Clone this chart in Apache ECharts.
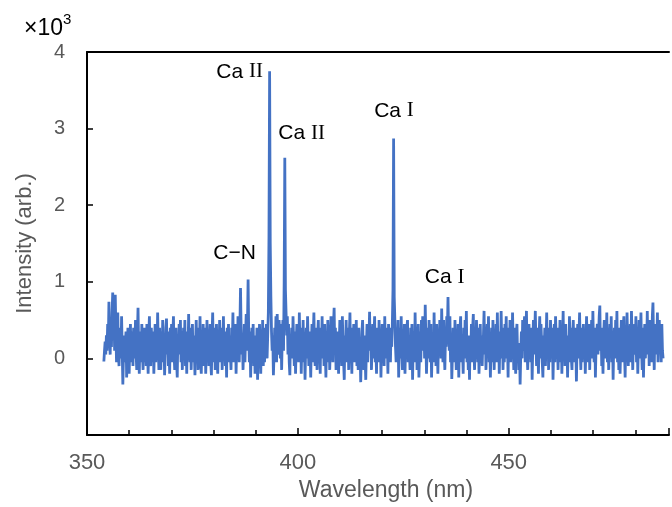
<!DOCTYPE html>
<html>
<head>
<meta charset="utf-8">
<script src="https://cdn.jsdelivr.net/npm/echarts@6/dist/echarts.min.js"></script>
<style>
html,body{margin:0;padding:0;background:#fff;}
#chart{width:672px;height:507px;}
</style>
</head>
<body>
<div id="chart"></div>
<script>
// Spectrum sampling: first wavelength (nm) and spacing (nm)
const wlStart = 354.0;
const wlStep = 0.15;
// Intensity (×10^3, arb.), one value per sample
const intensity = [
-0.04, 0.1, 0.22, 0.05, 0.3, 0.1, 0.45, 0.2, 0.74, 0.25, 0.05, 0.5, 0.15, 0.6, 0.86, 0.3, 0.55, 0.1, 0.83, 0.35,
-0.05, 0.3, 0.6, 0.05, -0.1, 0.25, 0.4, 0.0, 0.55, 0.1, -0.34, 0.05, 0.3, -0.05, 0.2, 0.35, -0.25, 0.0, 0.4, 0.1,
-0.2, 0.2, 0.45, -0.05, 0.1, 0.35, -0.1, 0.4, 0.0, 0.15, 0.5, 0.05, -0.15, 0.3, 0.66, 0.1, -0.2, 0.25, 0.35, -0.05,
0.45, 0.05, -0.15, 0.3, 0.4, -0.05, 0.25, -0.1, 0.45, 0.1, -0.2, 0.3, 0.55, 0.0, -0.1, 0.4, 0.15, -0.05, 0.35, -0.2,
0.15, 0.45, -0.05, 0.3, 0.05, 0.6, 0.15, -0.15, 0.4, 0.1, -0.15, 0.35, 0.0, 0.5, -0.05, 0.25, -0.22, 0.1, 0.4, 0.52,
0.05, 0.35, -0.1, 0.2, -0.2, 0.4, 0.1, 0.45, -0.05, 0.3, 0.55, 0.05, -0.15, 0.25, 0.4, -0.05, -0.25, 0.3, 0.05, 0.45,
0.1, 0.5, -0.05, 0.35, -0.15, 0.15, 0.4, 0.0, 0.5, -0.1, 0.25, -0.2, 0.35, 0.05, 0.58, 0.1, -0.05, 0.4, -0.15, 0.2,
0.45, -0.05, 0.3, 0.1, -0.22, 0.2, 0.5, 0.0, 0.35, -0.15, 0.4, 0.1, 0.55, -0.05, -0.2, 0.3, 0.1, 0.45, -0.1, 0.2,
0.4, -0.2, 0.15, 0.5, 0.0, 0.35, -0.1, 0.2, 0.45, -0.05, -0.22, 0.3, 0.6, 0.1, -0.05, 0.4, -0.15, 0.2, 0.45, 0.05,
-0.2, 0.3, 0.1, 0.5, -0.05, 0.2, 0.4, -0.15, 0.15, 0.55, 0.0, 0.35, -0.1, 0.2, -0.25, 0.4, 0.1, 0.45, -0.05, 0.3,
0.05, -0.15, 0.4, 0.15, 0.6, -0.05, 0.3, 0.1, 0.45, -0.2, 0.2, 0.0, 0.55, 0.25, -0.05, 0.4, 0.92, 0.35, 0.05, 0.3,
-0.15, 0.2, 0.45, -0.05, 0.3, 0.58, 0.1, 0.45, 1.03, 0.3, -0.05, 0.35, -0.25, 0.15, 0.4, -0.05, 0.45, -0.1, 0.2, -0.2,
0.3, 0.05, 0.4, -0.28, 0.15, -0.05, 0.45, 0.2, -0.2, 0.3, 0.0, 0.5, -0.1, 0.25, -0.05, 0.4, 0.1, 0.45, 0.0, 0.3,
0.6, 1.6, 3.75, 1.5, 0.8, 0.35, 0.1, 0.3, -0.22, 0.05, 0.4, 0.15, 0.55, -0.05, 0.58, 0.25, 0.05, 0.5, 0.3, 0.0,
0.45, -0.15, 0.3, 0.5, 0.1, 1.0, 2.62, 0.9, 0.6, 0.3, 0.55, 0.05, 0.45, -0.05, -0.22, 0.3, 0.1, 0.4, 0.0, 0.55,
0.2, -0.1, 0.35, -0.2, 0.15, 0.45, 0.0, 0.3, -0.05, 0.6, 0.1, 0.4, -0.2, 0.25, 0.0, 0.5, -0.05, 0.3, -0.28, 0.15,
0.4, 0.0, 0.55, 0.2, -0.1, 0.35, 0.1, -0.25, 0.2, 0.45, -0.05, 0.3, 0.6, 0.1, -0.1, 0.4, 0.2, -0.15, 0.3, 0.5,
-0.05, 0.2, -0.2, 0.4, 0.1, 0.55, 0.0, 0.3, -0.1, 0.45, 0.1, -0.25, 0.3, -0.05, 0.5, 0.2, 0.4, -0.15, 0.15, 0.55,
0.0, 0.3, -0.05, 0.45, 0.66, 0.1, 0.4, -0.15, 0.2, -0.05, 0.35, -0.2, 0.15, 0.5, 0.0, 0.4, -0.1, 0.55, 0.2, -0.05,
-0.28, 0.3, 0.1, 0.5, -0.05, 0.2, 0.4, -0.15, 0.3, 0.6, 0.0, 0.25, -0.2, 0.4, 0.1, 0.45, -0.05, 0.3, 0.0, 0.5,
-0.1, 0.2, -0.15, 0.4, 0.0, 0.15, -0.31, 0.05, 0.35, 0.5, 0.1, -0.15, 0.3, 0.0, -0.28, 0.15, 0.45, -0.05, 0.3, 0.2,
0.61, 0.1, 0.4, -0.15, 0.2, 0.45, 0.0, 0.3, 0.55, -0.05, 0.15, -0.2, 0.4, 0.2, -0.05, 0.5, 0.1, 0.3, -0.25, 0.2,
0.45, -0.05, 0.3, -0.1, 0.55, 0.1, 0.4, 0.0, 0.25, -0.2, 0.45, 0.1, 0.35, -0.05, 0.4, 0.15, 0.45, 0.9, 2.87, 0.8,
0.5, 0.15, -0.05, 0.4, 0.1, 0.5, -0.25, 0.2, 0.4, 0.0, 0.55, 0.1, -0.15, 0.3, 0.0, 0.45, -0.2, 0.2, 0.1, 0.4,
0.5, -0.05, 0.3, 0.1, -0.15, 0.4, 0.0, 0.45, -0.28, 0.2, 0.35, -0.05, 0.6, 0.1, 0.4, -0.15, 0.2, 0.45, -0.25, 0.05,
0.35, -0.05, 0.5, 0.1, 0.55, 0.2, 0.4, 0.0, 0.7, 0.25, -0.2, 0.15, 0.4, 0.0, 0.5, 0.2, -0.05, 0.45, -0.25, 0.15,
0.3, -0.05, 0.6, 0.1, 0.4, -0.1, 0.45, 0.2, -0.2, 0.3, 0.1, 0.5, 0.35, 0.0, 0.65, 0.25, -0.05, 0.5, 0.1, -0.15,
0.3, 0.15, 0.55, 0.35, 0.8, 0.3, 0.1, 0.55, -0.05, 0.3, -0.27, 0.05, 0.4, 0.1, -0.05, 0.5, 0.2, -0.15, 0.3, 0.0,
0.45, -0.25, 0.2, 0.4, 0.55, -0.05, 0.3, 0.1, -0.2, 0.4, 0.0, 0.5, 0.15, 0.62, -0.05, 0.3, -0.15, 0.2, -0.28, 0.3,
0.05, 0.45, -0.05, 0.4, 0.58, 0.1, -0.15, 0.3, 0.0, 0.5, 0.2, -0.05, 0.4, -0.2, 0.15, 0.45, 0.0, 0.3, -0.1, 0.2,
0.3, 0.62, 0.05, 0.4, -0.15, 0.2, 0.45, 0.1, 0.55, -0.05, 0.3, -0.25, 0.15, 0.4, -0.05, 0.5, 0.2, -0.15, 0.3, 0.05,
0.45, -0.05, 0.6, 0.1, 0.35, -0.2, 0.2, 0.0, 0.62, 0.15, 0.4, -0.15, 0.3, -0.05, 0.45, 0.1, 0.55, 0.0, 0.2, -0.25,
0.4, 0.1, 0.5, -0.05, 0.3, 0.0, 0.6, 0.2, -0.15, 0.4, 0.1, -0.2, 0.3, 0.45, 0.0, 0.2, -0.15, 0.15, -0.34, 0.05,
0.35, 0.0, 0.5, 0.1, 0.4, 0.55, -0.05, 0.3, 0.62, 0.1, -0.15, 0.2, 0.45, 0.0, 0.3, -0.05, 0.4, -0.28, 0.15, 0.5,
0.05, 0.3, 0.62, 0.2, -0.1, 0.4, 0.1, -0.2, 0.3, 0.55, 0.0, 0.45, 0.2, -0.05, -0.25, 0.3, 0.1, 0.4, -0.1, 0.2,
0.6, 0.1, 0.4, -0.15, 0.3, -0.05, 0.5, 0.2, 0.0, 0.4, -0.28, 0.15, 0.45, -0.05, 0.55, 0.25, 0.0, 0.2, -0.15, 0.4,
0.1, 0.5, -0.05, 0.3, -0.2, 0.2, 0.62, 0.0, 0.4, -0.1, 0.45, 0.1, 0.3, -0.25, 0.2, -0.05, 0.55, 0.1, 0.4, 0.0,
-0.15, 0.3, 0.5, 0.1, -0.05, 0.4, 0.2, -0.3, 0.15, 0.45, 0.0, 0.3, 0.6, 0.1, -0.15, 0.4, -0.05, 0.2, 0.45, 0.0,
0.3, -0.2, 0.15, 0.55, 0.2, 0.4, -0.05, 0.45, -0.15, 0.3, 0.1, 0.5, 0.0, 0.62, 0.2, -0.05, 0.4, -0.25, 0.15, 0.3,
0.45, 0.05, 0.3, 0.55, 0.69, 0.1, 0.4, -0.1, 0.2, -0.2, 0.3, 0.5, 0.0, 0.4, 0.1, 0.6, -0.05, 0.3, -0.15, 0.2,
0.45, 0.1, 0.55, -0.05, 0.3, -0.28, 0.2, 0.4, 0.0, 0.5, 0.1, 0.62, -0.05, 0.3, -0.15, 0.4, -0.2, 0.15, 0.5, 0.2,
-0.05, 0.4, 0.55, 0.1, -0.25, 0.3, 0.0, 0.6, 0.2, -0.1, 0.4, 0.1, 0.45, -0.05, 0.62, 0.25, -0.15, 0.2, 0.05, 0.45,
0.1, 0.55, -0.05, 0.4, -0.2, 0.2, 0.5, 0.0, 0.3, 0.6, 0.1, -0.15, 0.4, -0.25, 0.2, 0.45, 0.0, 0.3, 0.1, 0.62,
0.05, 0.4, -0.1, 0.5, 0.1, 0.3, -0.05, 0.55, 0.73, 0.2, -0.15, 0.4, 0.05, 0.45, 0.1, 0.6, -0.05, 0.3, 0.5, 0.1,
0.4, -0.05, 0.45, 0.1, 0.0
];
// Axis settings
const xMin = 350, xMax = 488, xInterval = 50;
const yMin = -1, yMax = 4, yInterval = 1;
// Peak annotations: species name, ionization stage (roman), anchor (nm, ×10^3)
const annoSpecies = ['Ca', 'Ca', 'Ca', 'C\u2212N', 'Ca'];
const annoStage   = ['II', 'II', 'I', '', 'I'];
const annoX = [386.2, 400.9, 422.8, 385.0, 434.8];
const annoY = [3.74, 2.94, 3.23, 1.37, 1.06];

const seriesData = intensity.map((v, i) => [+(wlStart + i * wlStep).toFixed(2), v]);

const chart = echarts.init(document.getElementById('chart'), null, {renderer: 'canvas'});
const sans = 'Arial, "Liberation Sans", sans-serif';
const serif = '"Times New Roman", "Liberation Serif", serif';

chart.setOption({
  animation: false,
  grid: {left: 87, right: 1, top: 52, bottom: 71},
  xAxis: [{
    type: 'value', min: xMin, max: xMax, interval: xInterval,
    position: 'bottom',
    axisLine: {show: true, onZero: false, lineStyle: {color: '#000', width: 2}},
    axisTick: {show: true, inside: true, length: 7, lineStyle: {color: '#000', width: 1.5}},
    minorTick: {show: true, splitNumber: 5, length: 5, lineStyle: {color: '#000', width: 1.5}},
    axisLabel: {color: '#595959', fontSize: 22, fontFamily: sans, margin: 17,
      formatter: v => (v > 480 ? '' : String(v))},
    splitLine: {show: false},
    name: 'Wavelength (nm)', nameLocation: 'middle', nameGap: 44,
    nameTextStyle: {color: '#595959', fontSize: 23, fontFamily: sans, padding: [0, 0, 0, 16]}
  }, {
    type: 'value', min: xMin, max: xMax, position: 'top',
    axisLine: {show: true, onZero: false, lineStyle: {color: '#000', width: 2}},
    axisTick: {show: false}, axisLabel: {show: false}, splitLine: {show: false}
  }],
  yAxis: {
    type: 'value', min: yMin, max: yMax, interval: yInterval,
    axisLine: {show: true, onZero: false, lineStyle: {color: '#000', width: 2}},
    axisTick: {show: true, inside: true, length: 6, lineStyle: {color: '#000', width: 1.5}},
    axisLabel: {color: '#595959', fontSize: 20, fontFamily: sans, margin: 22,
      formatter: v => (v < 0 ? '' : String(v))},
    splitLine: {show: false},
    name: 'Intensity (arb.)', nameLocation: 'middle', nameGap: 51, nameRotate: 90,
    nameTextStyle: {color: '#595959', fontSize: 22, fontFamily: sans}
  },
  series: [{
    type: 'line',
    xAxisIndex: 0,
    data: seriesData,
    showSymbol: false,
    symbol: 'none',
    sampling: null,
    lineStyle: {color: '#4472C4', width: 2.8, join: 'miter', miterLimit: 2},
    clip: true
  }]
});

const graphics = [{
  type: 'text', left: 24, top: 17,
  style: {
    text: '\u00D710',
    font: '23px ' + sans, fill: '#000'
  }
}, {
  type: 'text', left: 63, top: 12,
  style: {
    text: '3',
    font: '15px ' + sans, fill: '#000'
  }
}];
annoSpecies.forEach((sp, k) => {
  const p = chart.convertToPixel({xAxisIndex: 0, yAxisIndex: 0}, [annoX[k], annoY[k]]);
  const txt = annoStage[k] ? '{a|' + sp + ' }{r|' + annoStage[k] + '}' : '{a|' + sp + '}';
  graphics.push({
    type: 'text', x: p[0], y: p[1],
    style: {
      text: txt, align: 'center', verticalAlign: 'middle',
      rich: {
        a: {fontSize: 21, fontFamily: sans, fill: '#000'},
        r: {fontSize: 21, fontFamily: serif, fill: '#000'}
      }
    }
  });
});
chart.setOption({graphic: graphics});
</script>
</body>
</html>
